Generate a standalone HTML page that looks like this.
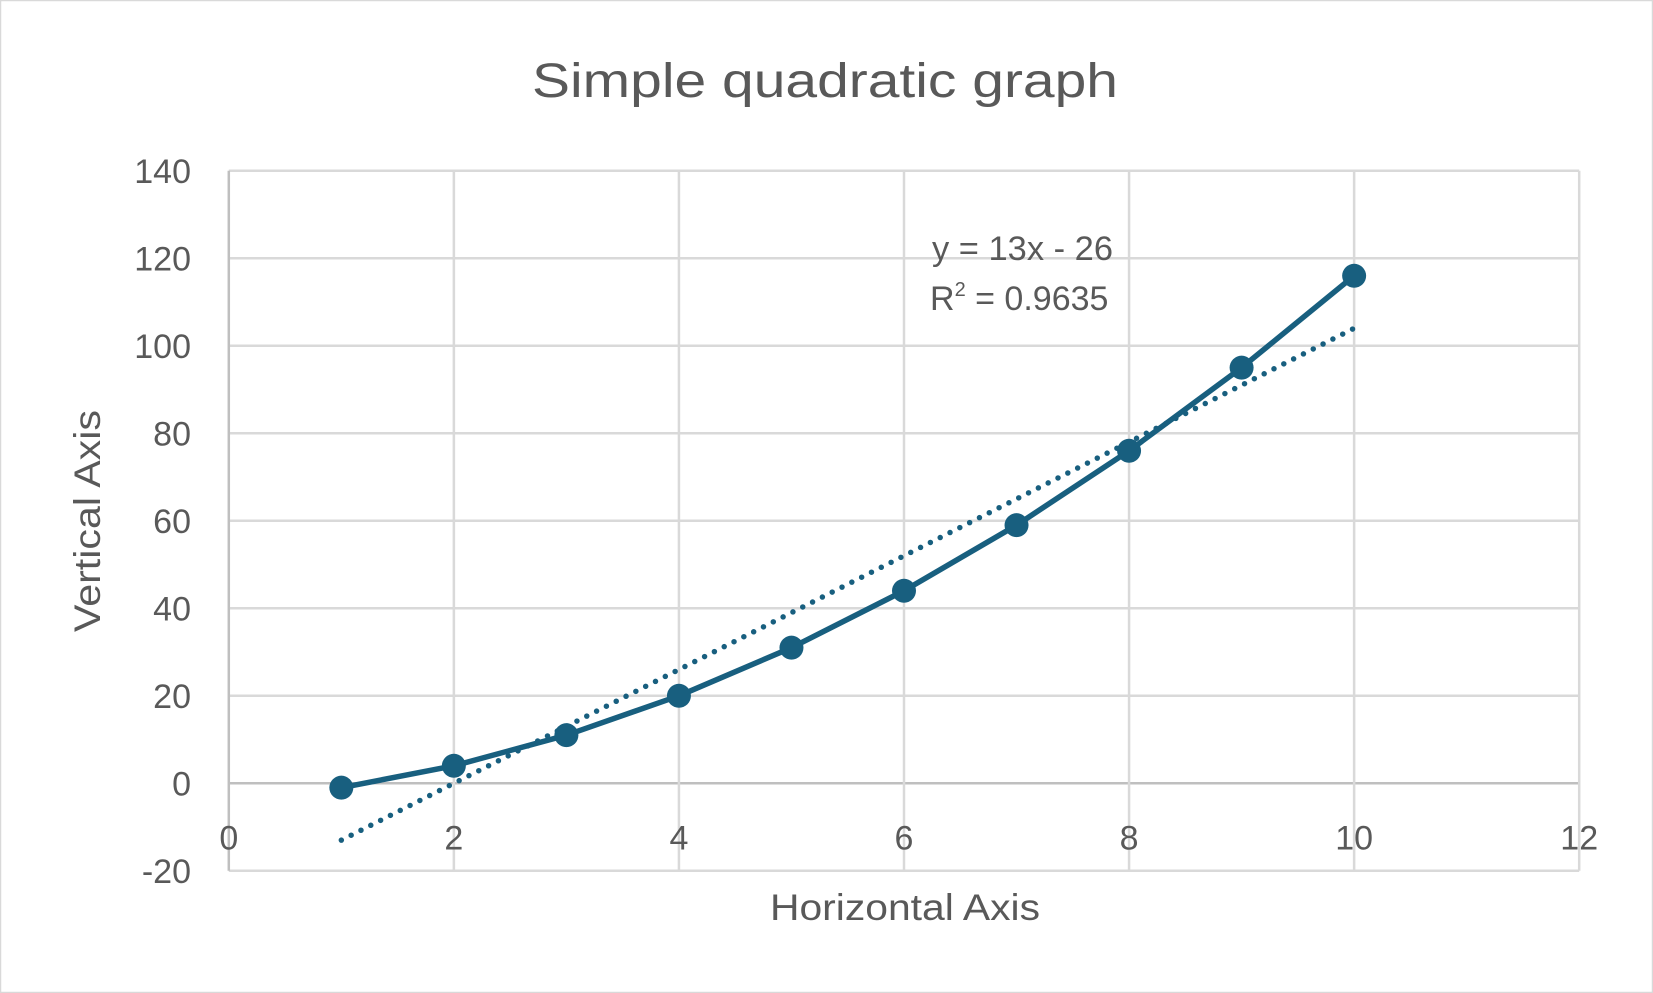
<!DOCTYPE html>
<html><head><meta charset="utf-8"><style>
html,body{margin:0;padding:0;background:#fff}
svg{display:block}
text{font-family:"Liberation Sans",sans-serif;fill:#595959}
</style></head><body>
<svg id="chart" width="1653" height="993" viewBox="0 0 1653 993" xmlns="http://www.w3.org/2000/svg">
<rect x="0.5" y="0.5" width="1652" height="992" fill="#fff" stroke="#d9d9d9" stroke-width="1.5"/>
<text x="825" y="97" text-anchor="middle" font-size="48" textLength="586" lengthAdjust="spacingAndGlyphs">Simple quadratic graph</text>
<g id="grid"></g>
<g id="ticks"></g>
<g id="series"></g>
<text x="905" y="920" text-anchor="middle" font-size="37" textLength="270" lengthAdjust="spacingAndGlyphs">Horizontal Axis</text>
<text x="0" y="0" text-anchor="middle" font-size="37" transform="translate(100,521) rotate(-90)" textLength="222" lengthAdjust="spacingAndGlyphs">Vertical Axis</text>
<text x="932" y="260" font-size="34" textLength="181" lengthAdjust="spacingAndGlyphs">y = 13x - 26</text>
<text x="930" y="310" font-size="34">R<tspan font-size="20" dy="-14">2</tspan><tspan dy="14"> = 0.9635</tspan></text>
</svg>
<script>
const xTicks = [0,2,4,6,8,10,12];
const yTicks = [-20,0,20,40,60,80,100,120,140];
const xValues = [1,2,3,4,5,6,7,8,9,10];
const yValues = [-1,4,11,20,31,44,59,76,95,116];
const trendSlope = 13;
const trendIntercept = -26;

const L=228.8,R=1579.2,T=170.8,B=870.8;
const xMin=0,xMax=12,yMin=-20,yMax=140;
const sx=v=>L+(v-xMin)/(xMax-xMin)*(R-L);
const sy=v=>B-(v-yMin)/(yMax-yMin)*(B-T);
const NS='http://www.w3.org/2000/svg';
function mk(tag,attrs,parent){const e=document.createElementNS(NS,tag);for(const k in attrs)e.setAttribute(k,attrs[k]);parent.appendChild(e);return e;}
const grid=document.getElementById('grid'),ticks=document.getElementById('ticks'),series=document.getElementById('series');
yTicks.forEach(v=>{
  const l=mk('line',{x1:L,x2:R,y1:sy(v),y2:sy(v),stroke:v===0?'#bfbfbf':'#d9d9d9','stroke-width':2.5},grid);
  
  
  const t=mk('text',{x:191,y:sy(v)+12,'text-anchor':'end','font-size':34},ticks);
  t.textContent=v;
  
  
});
xTicks.forEach(v=>{
  const l=mk('line',{x1:sx(v),x2:sx(v),y1:T,y2:B,stroke:v===0?'#bfbfbf':'#d9d9d9','stroke-width':2.5},grid);
  
  
  const t=mk('text',{x:sx(v),y:sy(0)+66,'text-anchor':'middle','font-size':34},ticks);
  t.textContent=v;
  
  
});
const x0=xValues[0],x1=xValues[xValues.length-1];
const tl=mk('line',{x1:sx(x0),y1:sy(trendSlope*x0+trendIntercept),x2:sx(x1),y2:sy(trendSlope*x1+trendIntercept),stroke:'#185F7F','stroke-width':5.5,'stroke-dasharray':'0 11','stroke-linecap':'round'},series);


const pts=xValues.map((x,i)=>sx(x)+','+sy(yValues[i])).join(' ');
const pl=mk('polyline',{points:pts,fill:'none',stroke:'#185F7F','stroke-width':5.5,'stroke-linejoin':'round'},series);


xValues.forEach((x,i)=>{
  const c=mk('circle',{cx:sx(x),cy:sy(yValues[i]),r:12,fill:'#185F7F'},series);
  
  
});
</script>
</body></html>
